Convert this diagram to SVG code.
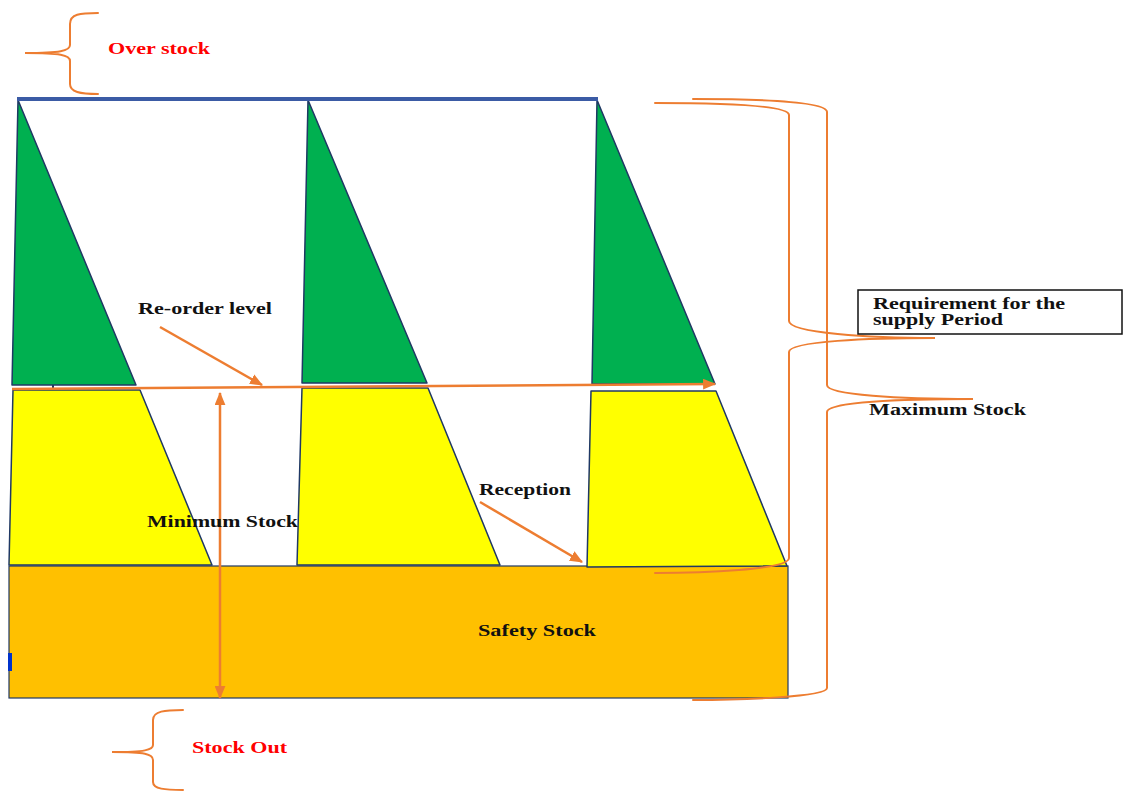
<svg xmlns="http://www.w3.org/2000/svg" width="1123" height="792" viewBox="0 0 1123 792">
  <style>
    .lbl { font-family: "Liberation Serif", "Times New Roman", serif; font-weight: bold; font-size: 16px; fill: #111; }
    .red { fill: #FF0000; }
    .green { fill: #00B050; stroke: #1F3864; stroke-width: 1.5; stroke-linejoin: round; }
    .yellow { fill: #FFFF00; stroke: #1F3864; stroke-width: 1.5; stroke-linejoin: round; }
    .brace { fill: none; stroke: #ED7D31; stroke-width: 2; stroke-linecap: round; }
    .arrow { fill: none; stroke: #ED7D31; stroke-width: 2.5; }
  </style>
  <defs>
    <marker id="head" viewBox="0 0 12 10" refX="11" refY="5" markerWidth="13" markerHeight="11" markerUnits="userSpaceOnUse" orient="auto-start-reverse">
      <path d="M0,0 L12,5 L0,10 Z" fill="#ED7D31"/>
    </marker>
  </defs>

  <rect width="1123" height="792" fill="#FFFFFF"/>

  <!-- safety stock base -->
  <g id="safety-stock">
    <rect x="9" y="566" width="779" height="132" fill="#FFC000" stroke="#1F3864" stroke-width="1.2"/>
    <rect x="8" y="653" width="4" height="18" fill="#0033CC"/>
    <text class="lbl" x="478" y="636" textLength="118" lengthAdjust="spacingAndGlyphs">Safety Stock</text>
  </g>

  <!-- stock cycles: yellow lower part -->
  <g id="cycle-lower">
    <polygon class="yellow" points="13,390 140,390 212,565 9,565"/>
    <polygon class="yellow" points="302,388 428,388 500,565 297,565"/>
    <polygon class="yellow" points="591,391 716,391 787,566 587,567"/>
  </g>

  <!-- stock cycles: green upper part -->
  <g id="cycle-upper">
    <polygon class="green" points="18,100 12,385 136,385"/>
    <polygon class="green" points="308,100 302,383 427,383"/>
    <polygon class="green" points="597,100 592,384 715,384"/>
    <line x1="53" y1="385" x2="53" y2="389" stroke="#1F3864" stroke-width="2"/>
  </g>

  <!-- maximum level line -->
  <g id="max-level">
    <line x1="17" y1="99" x2="598" y2="99" stroke="#3B5BA5" stroke-width="4"/>
  </g>

  <!-- connectors -->
  <g id="connectors">
    <line class="arrow" x1="12" y1="389" x2="715" y2="384" marker-end="url(#head)"/>
    <line class="arrow" x1="160" y1="327" x2="262" y2="385" marker-end="url(#head)"/>
    <line class="arrow" x1="480" y1="502" x2="582" y2="562" marker-end="url(#head)"/>
    <line class="arrow" x1="220" y1="393" x2="220" y2="698" marker-start="url(#head)" marker-end="url(#head)"/>
  </g>

  <!-- braces -->
  <g id="braces">
    <path class="brace" d="M98,13 C80,13 70,14 70,24 L70,45 C70,51 60,53 25,53 C60,53 70,55 70,61 L70,84 C70,92 80,94 98,94"/>
    <path class="brace" d="M183,710 C165,710 153,711 153,720 L153,745 C153,750 145,752 112,752 C145,752 153,754 153,760 L153,782 C153,789 165,790 183,790"/>
    <path class="brace" d="M655,103 C700,103 789,104 789,115 L789,321 C789,333 870,338 935,338 C870,338 789,341 789,352 L789,558 C789,570 700,573 655,573"/>
    <path class="brace" d="M693,99 C740,99 827,100 827,112 L827,385 C827,395 900,399 973,399 C900,399 827,402 827,412 L827,688 C827,697 740,700 693,700"/>
  </g>

  <!-- labels -->
  <g id="over-stock">
    <text class="lbl red" x="108" y="54" textLength="102" lengthAdjust="spacingAndGlyphs">Over stock</text>
  </g>
  <g id="stock-out">
    <text class="lbl red" x="192" y="753" textLength="95" lengthAdjust="spacingAndGlyphs">Stock Out</text>
  </g>
  <g id="reorder-level">
    <text class="lbl" x="138" y="314" textLength="134" lengthAdjust="spacingAndGlyphs">Re-order level</text>
  </g>
  <g id="minimum-stock">
    <text class="lbl" x="147" y="527" textLength="151" lengthAdjust="spacingAndGlyphs">Minimum Stock</text>
  </g>
  <g id="reception">
    <text class="lbl" x="479" y="495" textLength="92" lengthAdjust="spacingAndGlyphs">Reception</text>
  </g>
  <g id="requirement">
    <rect x="858" y="290" width="264" height="44" fill="#FFFFFF" stroke="#111" stroke-width="1.5"/>
    <text class="lbl" x="873" y="309" textLength="192" lengthAdjust="spacingAndGlyphs">Requirement for the</text>
    <text class="lbl" x="873" y="325" textLength="130" lengthAdjust="spacingAndGlyphs">supply Period</text>
  </g>
  <g id="maximum-stock">
    <text class="lbl" x="869" y="415" textLength="157" lengthAdjust="spacingAndGlyphs">Maximum Stock</text>
  </g>
</svg>
